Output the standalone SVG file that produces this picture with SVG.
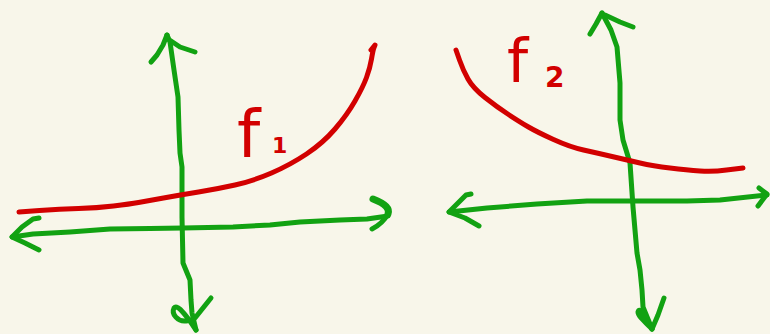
<svg xmlns="http://www.w3.org/2000/svg" width="770" height="334" viewBox="0 0 770 334">
<style>
.g{fill:none;stroke:#12a212;stroke-width:5;stroke-linecap:round;stroke-linejoin:round}
.r{fill:none;stroke:#d20000;stroke-width:5;stroke-linecap:round;stroke-linejoin:round}
.t{fill:#d20000;font-family:"DejaVu Sans",sans-serif}
.s{font-weight:bold}
</style>
<rect width="770" height="334" fill="#f8f6ea"/>
<g id="connectors">
<g id="left-axes">
<path class="g" d="M167 35 L170 42 L174 70 L178 97 L179 130 L180 153 L182 167 L182 217 L183 263 L190 280 L191 300 L192 313 L196 330"/>
<path class="g" d="M151 62 L157 55 L163 45 L167 35"/>
<path class="g" d="M171 41 L180 47 L195 52"/>
<path class="g" d="M211 298 L203 308 L195 318"/>
<path class="g" d="M196 330 L190 321 C183 312 177 304 174 308 C171 314 178 322 186 321 L193 320"/>
<path class="g" d="M12 237 L33 234 L70 232 L110 229 L150 228.5 L183 228 L233 227 L270 225 L300 222 L340 220 L367 219 L388 216"/>
<path class="g" d="M39 218 L33 219 L22 227 L12 237 L25 243 L39 250"/>
<path class="g" style="stroke-width:7" d="M373 199 C386 204 390 209 388 214"/>
<path class="g" d="M388 214 C384 221 378 226 372 229"/>
</g>
<g id="right-axes">
<path class="g" d="M602 13 L611 30 L617 47 L620 83 L620 120 L623 140 L630 163 L633 207 L637 253 L640 270 L642 290 L643 307 L652 329"/>
<path class="g" d="M590 34 L596 24 L602 13"/>
<path class="g" d="M605 15 L620 22 L633 27"/>
<path class="g" d="M664 298 L658 315 L652 329"/>
<path class="g" d="M652 329 C645 322 638 316 638 312 C639 307 644 313 648 322"/>
<path class="g" d="M449 212 L487 208 L537 204 L587 201 L633 201 L687 201 L720 200 L767 195"/>
<path class="g" d="M471 194 L466 195 L449 212 L465 218 L479 226"/>
<path class="g" d="M759 188 L767 194 L758 206"/>
</g>
</g>
<g id="f1">
<path class="r" d="M19 212 L39.5 210.5 Q60 209 78.5 208.5 Q97 208 113.5 206 Q130 204 138.5 202.5 Q147 201 163.5 198 Q180 195 198.5 192 Q217 189 235 185 Q253 181 271.5 173 Q290 165 306.5 154 Q323 143 335 129 Q347 115 355 101 Q363 87 366.5 77.5 Q370 68 371.5 59 Q373 50 374 47.5 L375 45 L371 50"/>
<text class="t" x="237" y="157" font-size="66">f</text>
<text class="t s" x="272" y="153" font-size="22">1</text>
</g>
<g id="f2">
<path class="r" d="M456 50 L459.5 60 Q463 70 468 79 Q473 88 485 97.5 Q497 107 508.5 114.5 Q520 122 528.5 127 Q537 132 553.5 139.5 Q570 147 583.5 150 Q597 153 612 156.5 Q627 160 640 163 Q653 166 670 168 Q687 170 700 171 Q713 172 726.5 170 L743 168"/>
<text class="t" x="507" y="82" font-size="60">f</text>
<text class="t s" x="545" y="87" font-size="28">2</text>
</g>
</svg>
